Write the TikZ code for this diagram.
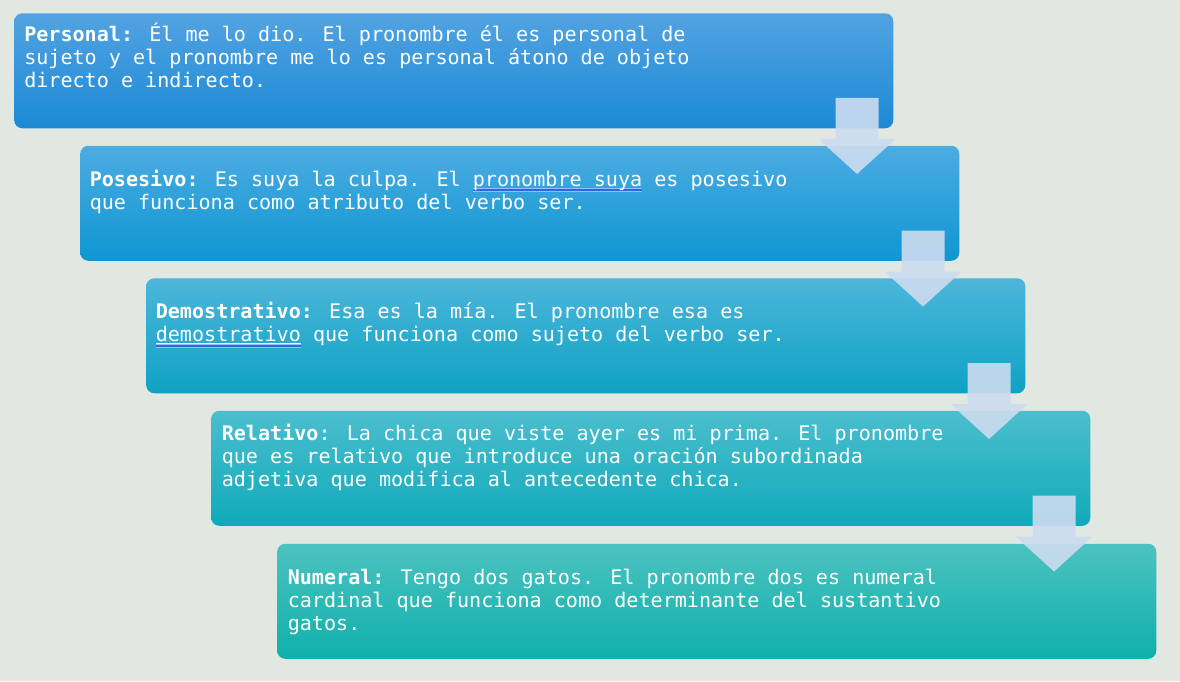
\documentclass[tikz,border=0pt]{standalone}
\usepackage{fontspec}
\newfontfamily\boxfont{DejaVu Sans Mono}
\definecolor{bg}{RGB}{225,232,225}
\definecolor{c1t}{RGB}{82,163,225}\definecolor{c1m}{RGB}{40,152,232}\definecolor{c1b}{RGB}{28,137,214}
\definecolor{c2t}{RGB}{76,172,226}\definecolor{c2m}{RGB}{30,166,226}\definecolor{c2b}{RGB}{15,150,210}
\definecolor{c3t}{RGB}{76,182,218}\definecolor{c3m}{RGB}{28,176,216}\definecolor{c3b}{RGB}{15,162,196}
\definecolor{c4t}{RGB}{76,190,206}\definecolor{c4m}{RGB}{28,184,204}\definecolor{c4b}{RGB}{15,170,186}
\definecolor{c5t}{RGB}{76,194,192}\definecolor{c5m}{RGB}{28,190,190}\definecolor{c5b}{RGB}{15,176,172}
\definecolor{arrfill}{RGB}{205,220,240}
\definecolor{ulblue}{RGB}{52,100,225}
\definecolor{ullight}{RGB}{150,190,240}
\newlength\gulw
\newcommand\gramul[1]{\settowidth\gulw{#1}\rlap{\color{white}\rule[-1.6pt]{\gulw}{0.6pt}}\rlap{\color{ullight}\rule[-2.4pt]{\gulw}{0.8pt}}\rlap{\color{ulblue}\rule[-3.6pt]{\gulw}{1.2pt}}\rlap{\color{ullight}\rule[-4.3pt]{\gulw}{0.7pt}}#1}
\newcommand\firstline{\rule{0pt}{14pt}}
\tikzset{
  stepbox/.style={rectangle, rounded corners=6pt, inner sep=0pt, anchor=north west,
    minimum width=659.25pt, minimum height=86.25pt},
  txt/.style={anchor=north west, inner sep=0pt, align=left, text=white,
    font=\boxfont\fontsize{15.07pt}{17.25pt}\selectfont},
  downarrow/.style={fill=arrfill, fill opacity=0.9, draw=none}
}
\begin{document}
\begin{tikzpicture}[x=0.75pt,y=-0.75pt]
\fill[bg] (0,0) rectangle (1180,681);
\useasboundingbox (0,0) rectangle (1180,681);

\node[stepbox, top color=c1t, middle color=c1m, bottom color=c1b] (b1) at (14,13) {};
\node[stepbox, top color=c2t, middle color=c2m, bottom color=c2b] (b2) at (80,145.5) {};
\node[stepbox, top color=c3t, middle color=c3m, bottom color=c3b] (b3) at (146,278) {};
\node[stepbox, top color=c4t, middle color=c4m, bottom color=c4b] (b4) at (211,410.5) {};
\node[stepbox, top color=c5t, middle color=c5m, bottom color=c5b] (b5) at (277,543.5) {};

\node[txt] (t1) at (24,23) {\firstline\textbf{Personal:} Él me lo dio. El pronombre él es personal de\\
sujeto y el pronombre me lo es personal átono de objeto\\
directo e indirecto.};
\node[txt] (t2) at (89.5,167.3) {\firstline\textbf{Posesivo:} Es suya la culpa. El \gramul{pronombre suya} es posesivo\\
que funciona como atributo del verbo ser.};
\node[txt] (t3) at (155.5,300) {\firstline\textbf{Demostrativo:} Esa es la mía. El pronombre esa es\\
\gramul{demostrativo} que funciona como sujeto del verbo ser.};
\node[txt] (t4) at (221.5,421.3) {\firstline\textbf{Relativo}: La chica que viste ayer es mi prima. El pronombre\\
que es relativo que introduce una oración subordinada\\
adjetiva que modifica al antecedente chica.};
\node[txt] (t5) at (287.5,565.6) {\firstline\textbf{Numeral:} Tengo dos gatos. El pronombre dos es numeral\\
cardinal que funciona como determinante del sustantivo\\
gatos.};

\foreach \b in {b1,b2,b3,b4}{
  \fill[downarrow, shift={(\b.north east)}] (-58,85) -- (-15,85) -- (-15,126) -- (2,126)
    -- (-36.5,161) -- (-75,126) -- (-58,126) -- cycle;
}
\end{tikzpicture}
\end{document}
